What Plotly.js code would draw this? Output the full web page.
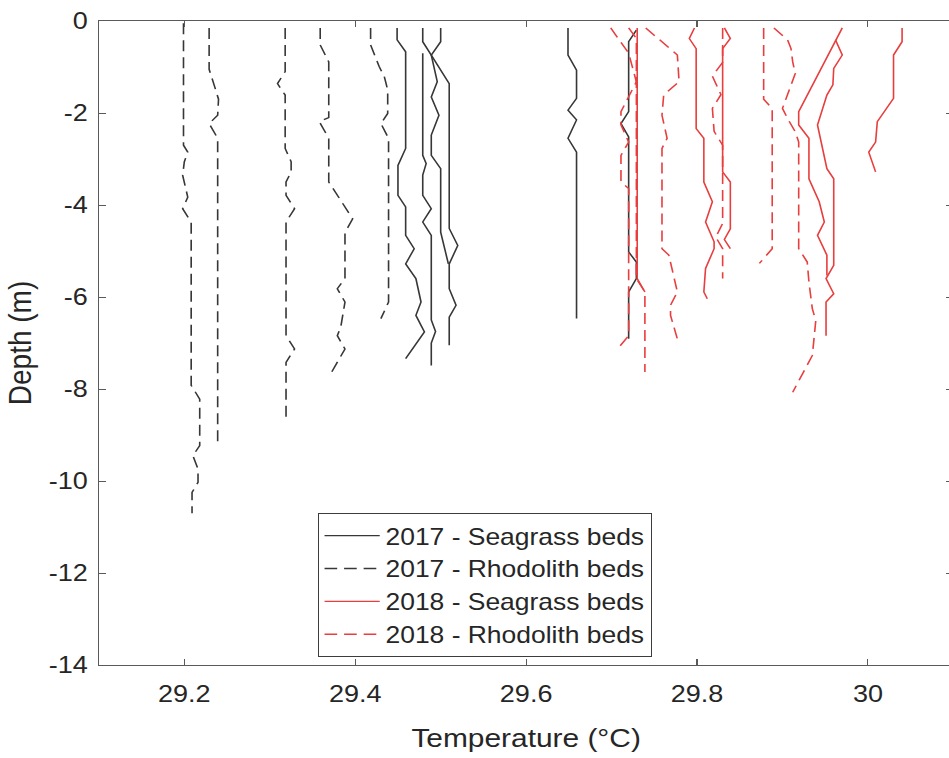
<!DOCTYPE html>
<html>
<head>
<meta charset="utf-8">
<script src="https://cdn.plot.ly/plotly-3.0.1.min.js"></script>
<style>
html, body { margin: 0; padding: 0; overflow: hidden; background: #fff; width: 949px; height: 758px; }
#chart { width: 831px; height: 758px; transform: scaleX(1.15); transform-origin: 0 0; }
</style>
</head>
<body>
<div id="chart"></div>
<script>
// ---- Axis ticks ----
const xTickVals = [29.2, 29.4, 29.6, 29.8, 30];
const xTickText = ['29.2', '29.4', '29.6', '29.8', '30'];
const yTickVals = [0, -2, -4, -6, -8, -10, -12, -14];
const yTickText = ['0', '-2', '-4', '-6', '-8', '-10', '-12', '-14'];
const legendNames = ['2017 - Seagrass beds', '2017 - Rhodolith beds', '2018 - Seagrass beds', '2018 - Rhodolith beds'];

// ---- 2017 Seagrass beds (solid, black) ----
const sg17_1_temp  = [29.449, 29.449, 29.459, 29.459, 29.450, 29.450, 29.459, 29.459, 29.469, 29.459, 29.471, 29.477, 29.471, 29.481, 29.459];
const sg17_1_depth = [-0.15, -0.41, -0.67, -2.77, -3.14, -3.79, -4.04, -4.66, -4.95, -5.28, -5.60, -6.11, -6.40, -6.76, -7.34];
const sg17_2_temp  = [29.479, 29.479, 29.489, 29.510, 29.510, 29.520, 29.510, 29.510, 29.518, 29.510, 29.510];
const sg17_2_depth = [-0.15, -0.45, -0.74, -1.36, -4.51, -4.88, -5.28, -5.82, -6.18, -6.44, -7.05];
const sg17_3_temp  = [29.500, 29.500, 29.489, 29.496, 29.489, 29.498, 29.489, 29.489, 29.500, 29.500, 29.509];
const sg17_3_depth = [-0.15, -0.45, -0.74, -1.32, -1.65, -2.05, -2.48, -2.92, -3.21, -4.59, -5.28];
const sg17_4_temp  = [29.479, 29.479, 29.483, 29.479, 29.479, 29.489, 29.479, 29.489, 29.489, 29.494, 29.489, 29.489];
const sg17_4_depth = [-0.70, -2.92, -3.10, -3.35, -3.79, -4.08, -4.37, -4.66, -6.50, -6.75, -7.00, -7.49];
const sg17_5_temp  = [29.649, 29.649, 29.659, 29.659, 29.649, 29.659, 29.649, 29.659, 29.659];
const sg17_5_depth = [-0.15, -0.74, -1.07, -1.68, -1.94, -2.15, -2.55, -2.85, -6.47];
const sg17_6_temp  = [29.729, 29.720, 29.720, 29.711, 29.720, 29.720, 29.729, 29.729, 29.720, 29.720];
const sg17_6_depth = [-0.20, -0.45, -1.97, -2.23, -2.52, -5.02, -5.24, -5.60, -5.89, -6.91];

// ---- 2017 Rhodolith beds (dashed, black) ----
const rh17_1_temp  = [29.199, 29.199, 29.204, 29.200, 29.198, 29.204, 29.198, 29.208, 29.208, 29.218, 29.218, 29.210, 29.216, 29.216, 29.209, 29.209];
const rh17_1_depth = [-0.05, -2.70, -2.85, -3.06, -3.35, -3.83, -4.08, -4.37, -7.92, -8.22, -9.23, -9.45, -9.74, -10.03, -10.25, -10.70];
const rh17_2_temp  = [29.229, 29.229, 29.235, 29.240, 29.239, 29.229, 29.239, 29.239];
const rh17_2_depth = [-0.15, -1.05, -1.40, -1.70, -2.05, -2.23, -2.55, -9.23];
const rh17_3_temp  = [29.318, 29.318, 29.309, 29.318, 29.318, 29.325, 29.325, 29.319, 29.319, 29.329, 29.319, 29.319, 29.329, 29.319, 29.319];
const rh17_3_depth = [-0.15, -1.10, -1.36, -1.61, -2.77, -3.06, -3.28, -3.50, -3.79, -4.08, -4.37, -6.84, -7.13, -7.42, -8.62];
const rh17_4_temp  = [29.359, 29.359, 29.369, 29.369, 29.358, 29.369, 29.369, 29.379, 29.389, 29.397, 29.388, 29.388, 29.379, 29.388, 29.383, 29.379, 29.388, 29.379, 29.370];
const rh17_4_depth = [-0.15, -0.52, -0.89, -2.10, -2.19, -2.55, -3.50, -3.79, -4.08, -4.30, -4.60, -5.60, -5.82, -6.11, -6.66, -6.84, -7.13, -7.42, -7.71];
const rh17_5_temp  = [29.418, 29.418, 29.428, 29.434, 29.438, 29.438, 29.430, 29.439, 29.439, 29.430];
const rh17_5_depth = [-0.15, -0.52, -0.99, -1.21, -1.50, -2.01, -2.23, -2.55, -6.11, -6.47];

// ---- 2018 Seagrass beds (solid, red) ----
const sg18_1_temp  = [29.730, 29.730, 29.739];
const sg18_1_depth = [-0.15, -5.60, -5.89];
const sg18_2_temp  = [29.797, 29.791, 29.799, 29.799, 29.808, 29.808, 29.818, 29.810, 29.820, 29.820, 29.810, 29.808, 29.812];
const sg18_2_depth = [-0.15, -0.38, -0.60, -2.34, -2.55, -3.50, -3.93, -4.37, -4.80, -4.95, -5.38, -5.89, -6.04];
const sg18_3_temp  = [29.832, 29.839, 29.830, 29.830, 29.839, 29.839, 29.832, 29.839];
const sg18_3_depth = [-0.15, -0.38, -0.60, -3.28, -3.50, -4.52, -4.75, -4.95];
const sg18_4_temp  = [29.970, 29.919, 29.919, 29.931, 29.931, 29.943, 29.949, 29.941, 29.952, 29.952];
const sg18_4_depth = [-0.15, -1.97, -2.26, -2.55, -3.43, -3.93, -4.37, -4.66, -5.09, -5.53];
const sg18_5_temp  = [29.962, 29.970, 29.960, 29.959, 29.952, 29.947, 29.941, 29.952, 29.960, 29.960, 29.951, 29.960, 29.951, 29.951];
const sg18_5_depth = [-0.41, -0.74, -1.03, -1.39, -1.61, -1.90, -2.26, -3.21, -3.43, -5.31, -5.60, -5.93, -6.11, -6.84];
const sg18_6_temp  = [30.040, 30.040, 30.030, 30.030, 30.011, 30.009, 30.001, 30.009];
const sg18_6_depth = [-0.15, -0.45, -0.74, -1.68, -2.19, -2.63, -2.85, -3.28];

// ---- 2018 Rhodolith beds (dashed, red) ----
const rh18_1_temp  = [29.699, 29.711, 29.720, 29.729, 29.711, 29.711, 29.720, 29.711, 29.711, 29.720, 29.720, 29.707];
const rh18_1_depth = [-0.15, -0.45, -0.70, -1.32, -1.97, -2.26, -2.63, -2.92, -3.50, -3.64, -6.84, -7.13];
const rh18_2_temp  = [29.720, 29.729, 29.729, 29.739, 29.739];
const rh18_2_depth = [-0.15, -0.38, -5.60, -5.89, -7.63];
const rh18_3_temp  = [29.740, 29.759, 29.777, 29.779, 29.761, 29.759, 29.765, 29.759, 29.759, 29.767, 29.777, 29.769, 29.769, 29.777];
const rh18_3_depth = [-0.15, -0.45, -0.74, -1.32, -1.61, -2.05, -2.55, -2.77, -4.95, -5.09, -5.89, -6.18, -6.40, -6.91];
const rh18_4_temp  = [29.830, 29.830, 29.818, 29.828, 29.818, 29.820, 29.830, 29.830, 29.822, 29.830, 29.830];
const rh18_4_depth = [-0.15, -0.90, -1.20, -1.60, -1.90, -2.40, -2.70, -4.40, -4.70, -4.95, -5.60];
const rh18_5_temp  = [29.890, 29.906, 29.910, 29.912, 29.915, 29.900, 29.906, 29.915, 29.919, 29.919, 29.929, 29.931, 29.935, 29.939, 29.935, 29.912];
const rh18_5_depth = [-0.15, -0.41, -0.60, -0.89, -1.14, -1.90, -2.12, -2.41, -2.63, -4.95, -5.24, -5.68, -6.26, -6.51, -7.27, -8.07];
const rh18_6_temp  = [29.878, 29.878, 29.888, 29.888, 29.873];
const rh18_6_depth = [-0.15, -1.70, -1.90, -4.95, -5.27];

// ---- styles ----
const BLACK = 'rgb(55,55,55)';
const RED = 'rgb(232,62,62)';
const DASH = '11px,6px';

function profile(temp, depth, group, color, dash, showLegend) {
  return {
    type: 'scatter', mode: 'lines',
    x: temp, y: depth,
    name: legendNames[group], legendgroup: 'g' + group, legendrank: group + 1,
    showlegend: showLegend,
    line: { color: color, width: 1.4, dash: dash },
    hoverinfo: 'skip'
  };
}

const traces = [
  profile(sg17_1_temp, sg17_1_depth, 0, BLACK, 'solid', true),
  profile(sg17_2_temp, sg17_2_depth, 0, BLACK, 'solid', false),
  profile(sg17_3_temp, sg17_3_depth, 0, BLACK, 'solid', false),
  profile(sg17_4_temp, sg17_4_depth, 0, BLACK, 'solid', false),
  profile(sg17_5_temp, sg17_5_depth, 0, BLACK, 'solid', false),
  profile(sg17_6_temp, sg17_6_depth, 0, BLACK, 'solid', false),
  profile(rh17_1_temp, rh17_1_depth, 1, BLACK, DASH, true),
  profile(rh17_2_temp, rh17_2_depth, 1, BLACK, DASH, false),
  profile(rh17_3_temp, rh17_3_depth, 1, BLACK, DASH, false),
  profile(rh17_4_temp, rh17_4_depth, 1, BLACK, DASH, false),
  profile(rh17_5_temp, rh17_5_depth, 1, BLACK, DASH, false),
  profile(rh18_1_temp, rh18_1_depth, 3, RED, DASH, true),
  profile(rh18_2_temp, rh18_2_depth, 3, RED, DASH, false),
  profile(rh18_3_temp, rh18_3_depth, 3, RED, DASH, false),
  profile(rh18_4_temp, rh18_4_depth, 3, RED, DASH, false),
  profile(rh18_5_temp, rh18_5_depth, 3, RED, DASH, false),
  profile(rh18_6_temp, rh18_6_depth, 3, RED, DASH, false),
  profile(sg18_1_temp, sg18_1_depth, 2, RED, 'solid', true),
  profile(sg18_2_temp, sg18_2_depth, 2, RED, 'solid', false),
  profile(sg18_3_temp, sg18_3_depth, 2, RED, 'solid', false),
  profile(sg18_4_temp, sg18_4_depth, 2, RED, 'solid', false),
  profile(sg18_5_temp, sg18_5_depth, 2, RED, 'solid', false),
  profile(sg18_6_temp, sg18_6_depth, 2, RED, 'solid', false)
];

const FONT = 'Liberation Sans, Arial, Helvetica, sans-serif';
const TXT = 'rgb(38,38,38)';
const AX = 'rgb(90,90,90)';

const axisCommon = {
  showline: true, mirror: 'ticks', linecolor: AX, linewidth: 1,
  ticks: 'inside', ticklen: 6, tickwidth: 1, tickcolor: AX,
  showgrid: false, zeroline: false, automargin: false,
  tickfont: { family: FONT, size: 23.5, color: TXT }
};

const layout = {
  width: 831, height: 758,
  margin: { l: 86, r: 2, t: 21, b: 93 },
  paper_bgcolor: '#fff', plot_bgcolor: '#fff',
  showlegend: true,
  xaxis: Object.assign({}, axisCommon, {
    range: [29.1, 30.1], tickmode: 'array', tickvals: xTickVals, ticktext: xTickText,
    ticklabelstandoff: 8,
    title: { text: 'Temperature (°C)', font: { family: FONT, size: 26, color: TXT }, standoff: 22 }
  }),
  yaxis: Object.assign({}, axisCommon, {
    range: [-14, 0], tickmode: 'array', tickvals: yTickVals, ticktext: yTickText,
    ticklabelstandoff: 4,
    title: { text: 'Depth (m)', font: { family: FONT, size: 28, color: TXT }, standoff: 6 }
  }),
  legend: {
    x: 0.256, y: 0.124, xanchor: 'left', yanchor: 'middle',
    bgcolor: '#fff', bordercolor: 'rgb(60,60,60)', borderwidth: 1,
    font: { family: FONT, size: 23, color: TXT },
    tracegroupgap: 0, itemwidth: 48, traceorder: 'normal'
  }
};

Plotly.newPlot('chart', traces, layout, { staticPlot: true, displayModeBar: false });
</script>
</body>
</html>
